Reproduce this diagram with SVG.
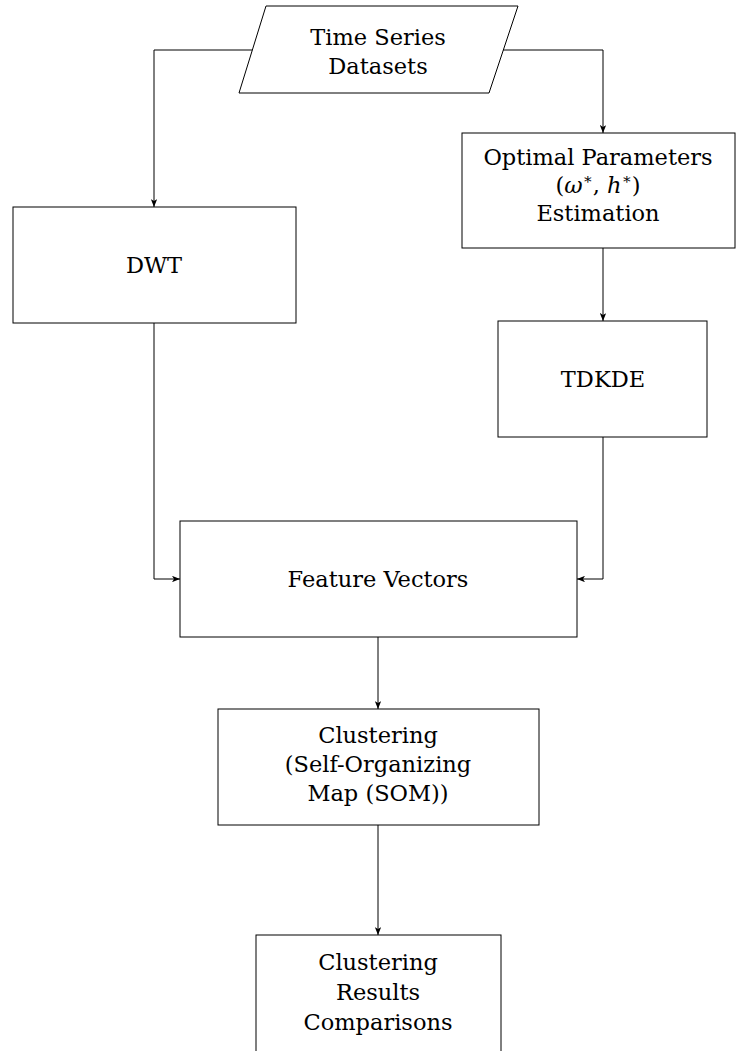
<svg xmlns="http://www.w3.org/2000/svg" width="736" height="1051" viewBox="0 0 736 1051">
  <defs>
    <marker id="arr" viewBox="0 0 10 8" refX="10" refY="4" markerWidth="8" markerHeight="6.4" orient="auto" markerUnits="userSpaceOnUse">
      <path d="M0,0 L10,4 L0,8 L2.5,4 Z" fill="#000"/>
    </marker>
  </defs>
  <style>
    .box { fill: #fff; stroke: #000; stroke-width: 1; }
    .edge { fill: none; stroke: #000; stroke-width: 1; marker-end: url(#arr); }
    text { font-family: "DejaVu Serif", "Liberation Serif", serif; font-size: 22.5px; fill: #000; text-anchor: middle; }
    .sup { font-size: 15px; }
  </style>
  <rect width="736" height="1051" fill="#fff"/>

  <g id="connectors">
    <path class="edge" d="M253,50 H154 V207"/>
    <path class="edge" d="M503,50 H603 V133"/>
    <path class="edge" d="M154,323 V579 H180"/>
    <path class="edge" d="M603,437 V579 H577"/>
    <path class="edge" d="M603,248 V321"/>
    <path class="edge" d="M378,637 V709"/>
    <path class="edge" d="M378,825 V935"/>
  </g>

  <g id="datasets">
    <polygon class="box" points="266,6 518,6 489,93 239,93"/>
    <text x="378" y="45">Time Series</text>
    <text x="378" y="74">Datasets</text>
  </g>

  <g id="dwt">
    <rect class="box" x="13" y="207" width="283" height="116"/>
    <text x="154" y="273">DWT</text>
  </g>

  <g id="optimal">
    <rect class="box" x="462" y="133" width="273" height="115"/>
    <text x="598" y="165">Optimal Parameters</text>
    <text x="598" y="193">(<tspan font-style="italic">ω</tspan><tspan class="sup" dy="-9">∗</tspan><tspan dy="9">, </tspan><tspan font-style="italic">h</tspan><tspan class="sup" dy="-9">∗</tspan><tspan dy="9">)</tspan></text>
    <text x="598" y="221">Estimation</text>
  </g>

  <g id="tdkde">
    <rect class="box" x="498" y="321" width="209" height="116"/>
    <text x="603" y="387">TDKDE</text>
  </g>

  <g id="features">
    <rect class="box" x="180" y="521" width="397" height="116"/>
    <text x="378" y="587">Feature Vectors</text>
  </g>

  <g id="som">
    <rect class="box" x="218" y="709" width="321" height="116"/>
    <text x="378" y="743">Clustering</text>
    <text x="378" y="772">(Self-Organizing</text>
    <text x="378" y="801">Map (SOM))</text>
  </g>

  <g id="results">
    <rect class="box" x="256" y="935" width="245" height="130"/>
    <text x="378" y="970">Clustering</text>
    <text x="378" y="1000">Results</text>
    <text x="378" y="1030">Comparisons</text>
  </g>
</svg>
